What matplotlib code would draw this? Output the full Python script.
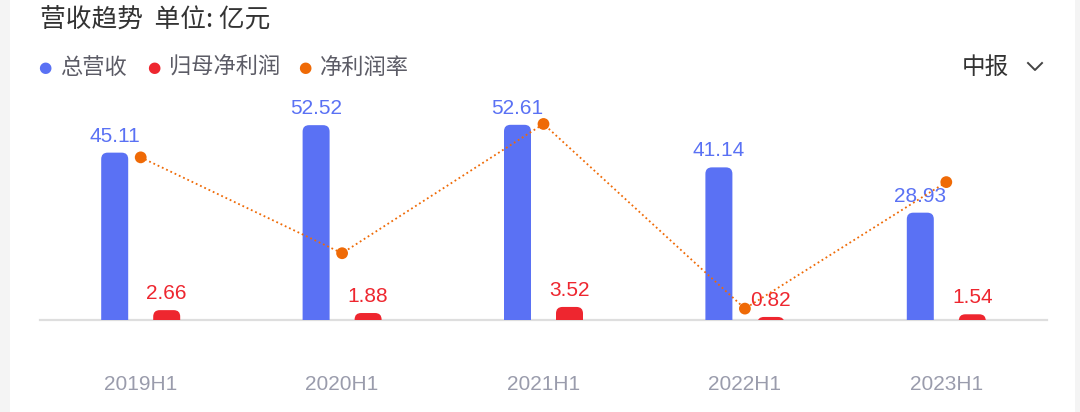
import matplotlib.pyplot as plt
from matplotlib.patches import FancyBboxPatch, Rectangle

plt.rcParams['font.family'] = ['Noto Sans CJK SC', 'DejaVu Sans']

# 数据
periods = ['2019H1', '2020H1', '2021H1', '2022H1', '2023H1']
revenue = [45.11, 52.52, 52.61, 41.14, 28.93]      # 总营收 (亿元)
net_profit = [2.66, 1.88, 3.52, 0.82, 1.54]        # 归母净利润 (亿元)
net_margin = [5.84, 3.40, 6.69, 1.99, 5.21]        # 净利润率 (%)

blue = '#5a71f4'
red = '#ee262f'
orange = '#ef6a06'

W, H = 1080, 412
fig = plt.figure(figsize=(W / 100, H / 100), dpi=100)
fig.patch.set_facecolor('white')

# 两侧浅灰边
fig.add_artist(Rectangle((0, 0), 10 / W, 1, transform=fig.transFigure,
                         facecolor='#f4f4f4', edgecolor='none'))
fig.add_artist(Rectangle((1 - 5 / W, 0), 5 / W, 1, transform=fig.transFigure,
                         facecolor='#f4f4f4', edgecolor='none'))

# 坐标区域: 基线 y=320px, 顶部 y=100px
left, right = 40, 1047
ax = fig.add_axes([left / W, 1 - 320 / H, (right - left) / W, 220 / H])
ax.set_xlim(-0.5, 4.5)
px_per_unit = 3.71
ax.set_ylim(0, 220 / px_per_unit)
ax.axis('off')

bar_w = 27 / 201.4
offset = 26 / 201.4
r_x = 6.5 / 201.4
aspect = (6.5 / px_per_unit) / r_x
ext = 4.0

for i in range(len(periods)):
    for val, off, col in [(revenue[i], -offset, blue), (net_profit[i], offset, red)]:
        p = FancyBboxPatch((i + off - bar_w / 2, -ext), bar_w, val + ext,
                           boxstyle='round,pad=0,rounding_size=%f' % r_x,
                           mutation_aspect=aspect, facecolor=col,
                           edgecolor='none', zorder=2)
        ax.add_patch(p)
        ax.text(i + off, val + 7 / px_per_unit, f'{val:.2f}', color=col,
                ha='center', va='bottom', fontsize=15,
                family='Liberation Sans', zorder=5)

ax.plot([-0.5, 4.5], [0, 0], color='#dedede', lw=1.6, zorder=1,
        clip_on=False)

# 净利润率 (右轴)
ax2 = ax.twinx()
ax2.set_ylim(1.70, 7.30)
ax2.axis('off')
ax2.plot(range(len(periods)), net_margin, color=orange, lw=1.3,
         ls=(0, (1, 1.6)), zorder=3)
ax2.scatter(range(len(periods)), net_margin, s=72, color=orange,
            edgecolors='none', zorder=4)

# x 轴标签
for i, p in enumerate(periods):
    ax.text(i, -65 / px_per_unit, p, ha='center', va='center',
            color='#9a9cac', fontsize=15, family='Liberation Sans',
            clip_on=False)

# 标题
fig.text(40 / W, 1 - 20 / H, '营收趋势  单位: 亿元', ha='left', va='center',
         fontsize=18.5, color='#333333')

# 图例
legend_items = [('总营收', blue, 45), ('归母净利润', red, 154), ('净利润率', orange, 305)]
for label, col, x in legend_items:
    fig.text(x / W, 1 - 67 / H, '●', ha='center', va='center',
             fontsize=11, color=col, family='DejaVu Sans')
    fig.text((x + 15) / W, 1 - 67 / H, label, ha='left', va='center',
             fontsize=16, color='#5c5c66')

# 中报 下拉
fig.text(962 / W, 1 - 67 / H, '中报', ha='left', va='center',
         fontsize=17, color='#333333')
fig.add_artist(plt.Line2D([1028 / W, 1035 / W, 1042 / W],
                          [1 - 63 / H, 1 - 70 / H, 1 - 63 / H],
                          color='#444444', lw=1.4))

fig.savefig('out.png', dpi=100, facecolor='white')
